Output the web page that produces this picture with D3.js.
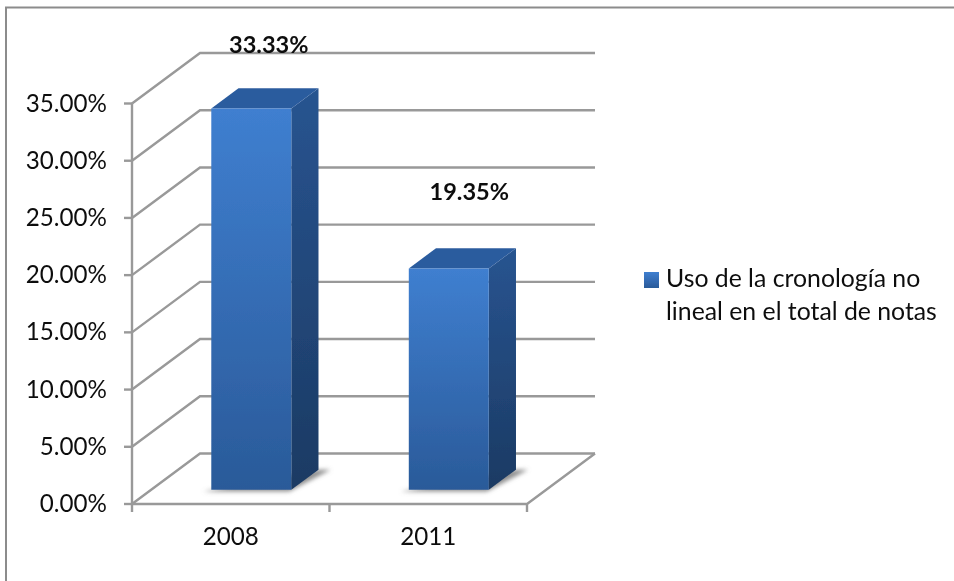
<!DOCTYPE html>
<html>
<head>
<meta charset="utf-8">
<script src="https://cdn.jsdelivr.net/npm/d3@7"></script>
<style>
  html, body { margin: 0; padding: 0; background: #fff; }
  text { font-family: Lato, "Open Sans", sans-serif; fill: #111; }
</style>
</head>
<body>
<div id="chart"></div>
<script>
// Chart data
const years = ['2008', '2011']
const values = [33.33, 19.35]
const valueLabels = ['33.33%', '19.35%']
const ticks = [0, 5, 10, 15, 20, 25, 30, 35]
const legendLines = ['Uso de la cronología no', 'lineal en el total de notas']

const width = 954
const height = 581

const svg = d3.select('#chart')
  .append('svg')
  .attr('width', width)
  .attr('height', height)

// Scales: x along the floor, y up the wall, depth going into the picture
const x = d3.scaleBand().domain(years).range([132, 527])
const y = d3.scaleLinear().domain([0, 35]).range([504, 103.5])
const depthX = d3.scaleLinear().domain([0, 1]).range([0, 68])
const depthY = d3.scaleLinear().domain([0, 1]).range([0, -50.5])

// oblique projection of (floor x, value, depth) to the screen
const pt = (px, v, d) => [px + depthX(d), y(v) + depthY(d)]
const path = pts => d3.line()(pts) + 'Z'

const barWidth = 80
const barNear = 0.28
const barFar = 0.68

// Gradients
const defs = svg.append('defs')
const gradient = (id, top, bottom) => {
  const g = defs.append('linearGradient').attr('id', id)
    .attr('x1', 0).attr('y1', 0).attr('x2', 0).attr('y2', 1)
  g.append('stop').attr('offset', '0%').attr('stop-color', top)
  g.append('stop').attr('offset', '100%').attr('stop-color', bottom)
}
gradient('front', '#3f7fd0', '#2a5a99')
gradient('side', '#285490', '#1b3a63')
gradient('swatch', '#3f7fd0', '#2a5a99')
defs.append('filter').attr('id', 'soft')
  .attr('x', '-20%').attr('y', '-40%').attr('width', '140%').attr('height', '180%')
  .append('feGaussianBlur').attr('stdDeviation', 2)
// the reference is a slightly soft raster, so everything gets a light blur
defs.append('filter').attr('id', 'raster')
  .attr('filterUnits', 'userSpaceOnUse')
  .attr('x', 0).attr('y', 0).attr('width', width).attr('height', height)
  .append('feGaussianBlur').attr('stdDeviation', 0.45)

const root = svg.append('g').attr('filter', 'url(#raster)')

// Outer frame: only top and left edges are in the picture
root.append('path')
  .attr('d', d3.line()([[6, height], [6, 7.5], [width, 7.5]]))
  .attr('fill', 'none')
  .attr('stroke', '#8c8c8c')
  .attr('stroke-width', 2)

const lineColor = '#999'
const grid = root.append('g')
  .attr('fill', 'none')
  .attr('stroke', lineColor)
  .attr('stroke-width', 2.4)

// Gridlines: front edge to the back wall, then across it
grid.selectAll('path.grid')
  .data(ticks)
  .enter().append('path')
  .attr('class', 'grid')
  .attr('d', d => d3.line()([pt(132, d, 0), pt(132, d, 1), pt(527, d, 1)]))

// Floor front and right edge
grid.append('path')
  .attr('d', d3.line()([pt(132, 0, 0), pt(527, 0, 0), pt(527, 0, 1)]))

// Value axis
grid.append('path')
  .attr('d', d3.line()([pt(132, 35, 0), pt(132, 0, 0)]))
grid.selectAll('line.ytick')
  .data(ticks)
  .enter().append('line')
  .attr('class', 'ytick')
  .attr('x1', 124).attr('x2', 132)
  .attr('y1', d => y(d)).attr('y2', d => y(d))

// Category ticks
grid.selectAll('line.xtick')
  .data([132, 329.5, 527])
  .enter().append('line')
  .attr('class', 'xtick')
  .attr('x1', d => d).attr('x2', d => d)
  .attr('y1', y(0)).attr('y2', y(0) + 8)

// Tick labels
root.selectAll('text.ylabel')
  .data(ticks)
  .enter().append('text')
  .attr('class', 'ylabel')
  .attr('x', 107)
  .attr('y', d => y(d) + 8)
  .attr('text-anchor', 'end')
  .attr('font-size', 24.2)
  .text(d => d3.format('.2f')(d) + '%')

root.selectAll('text.xlabel')
  .data(years)
  .enter().append('text')
  .attr('class', 'xlabel')
  .attr('x', d => x(d) + x.bandwidth() / 2)
  .attr('y', 545)
  .attr('text-anchor', 'middle')
  .attr('font-size', 24.2)
  .text(d => d)

// Bars
const bars = root.selectAll('g.bar')
  .data(years)
  .enter().append('g')
  .attr('class', 'bar')

const barLeft = d => x(d) + (x.bandwidth() - barWidth) / 2 + 1.5
const barRight = d => barLeft(d) + barWidth
const val = (d, i) => values[i]

// Floor shadow
bars.append('path')
  .attr('d', d => path([
    pt(barLeft(d) - 6, 0, barNear - 0.03),
    pt(barRight(d), 0, barNear - 0.03),
    pt(barRight(d) + 12, 0, barFar),
    pt(barRight(d), 0, barFar)
  ]))
  .attr('fill', '#8f8f8f')
  .attr('filter', 'url(#soft)')

bars.append('path')
  .attr('d', (d, i) => path([
    pt(barRight(d), 0, barNear), pt(barRight(d), val(d, i), barNear),
    pt(barRight(d), val(d, i), barFar), pt(barRight(d), 0, barFar)
  ]))
  .attr('fill', 'url(#side)')

bars.append('path')
  .attr('d', (d, i) => path([
    pt(barLeft(d), val(d, i), barNear), pt(barRight(d), val(d, i), barNear),
    pt(barRight(d), val(d, i), barFar), pt(barLeft(d), val(d, i), barFar)
  ]))
  .attr('fill', '#2b5c9e')

bars.append('path')
  .attr('d', (d, i) => path([
    pt(barLeft(d), 0, barNear), pt(barRight(d), 0, barNear),
    pt(barRight(d), val(d, i), barNear), pt(barLeft(d), val(d, i), barNear)
  ]))
  .attr('fill', 'url(#front)')

// Data labels
const labelY = [53, 200]
root.selectAll('text.value')
  .data(valueLabels)
  .enter().append('text')
  .attr('class', 'value')
  .attr('x', (d, i) => barLeft(years[i]) + barWidth / 2 + [17, 20][i] + 19.5)
  .attr('y', (d, i) => labelY[i])
  .attr('text-anchor', 'middle')
  .attr('font-size', 23.5)
  .attr('font-weight', 700)
  .text(d => d)

// Legend
root.append('rect')
  .attr('x', 644).attr('y', 272)
  .attr('width', 15).attr('height', 16)
  .attr('fill', 'url(#swatch)')

root.selectAll('text.legend')
  .data(legendLines)
  .enter().append('text')
  .attr('class', 'legend')
  .attr('x', 666)
  .attr('y', (d, i) => 287 + i * 33)
  .attr('font-size', 24.8)
  .text(d => d)
</script>
</body>
</html>
